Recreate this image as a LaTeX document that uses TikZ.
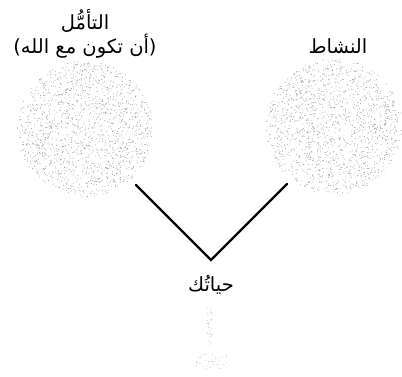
\documentclass[tikz,border=0pt]{standalone}
\usepackage{fontspec}
\newfontfamily\arabicfont[Script=Arabic]{DejaVu Sans}
\TeXXeTstate=1
\begin{document}
\begin{tikzpicture}[x=1pt,y=-1pt,
  lbl/.style={font=\arabicfont\fontsize{19.5}{22}\selectfont, inner sep=0pt, anchor=center},
  conn/.style={line width=2.2pt, black, line cap=round, line join=miter}]
\useasboundingbox (0,0) rectangle (402,376);
\fill[white] (0,0) rectangle (402,376);
\pgfmathsetseed{7}
% stippled circles
\foreach \cx/\cy in {85/129, 334/127}{
  \fill[gray!70] \foreach \i in {1,...,1500}{
    [/utils/exec={\pgfmathsetmacro\rr{68*sqrt(rnd)}\pgfmathsetmacro\aa{360*rnd}}]
    ({\cx+\rr*cos(\aa)},{\cy+\rr*sin(\aa)}) circle[radius=0.5]
  };
}
% faint stem below
\fill[gray!45] \foreach \i in {1,...,35}{
  [/utils/exec={\pgfmathsetmacro\yy{306+40*rnd}\pgfmathsetmacro\xx{210+3*rand}}]
  (\xx,\yy) circle[radius=0.45]
};
\fill[gray!45] \foreach \i in {1,...,45}{
  [/utils/exec={\pgfmathsetmacro\yy{362+8*rand}\pgfmathsetmacro\xx{211+16*rand}}]
  (\xx,\yy) circle[radius=0.45]
};
\node[lbl] (tamm) at (85,21) {\beginR التأمُّل\endR};
\node[lbl] (tammb) at (85,46) {\beginR (أن تكون مع الله)\endR};
\node[lbl] (nash) at (338,46) {\beginR النشاط\endR};
\node[lbl] (hay) at (211,285) {\beginR حياتُك\endR};
\coordinate (lend) at (136,185);
\coordinate (apex) at (211,260);
\coordinate (rend) at (287,184);
\draw[conn] (lend) -- (apex) -- (rend);
\end{tikzpicture}
\end{document}
